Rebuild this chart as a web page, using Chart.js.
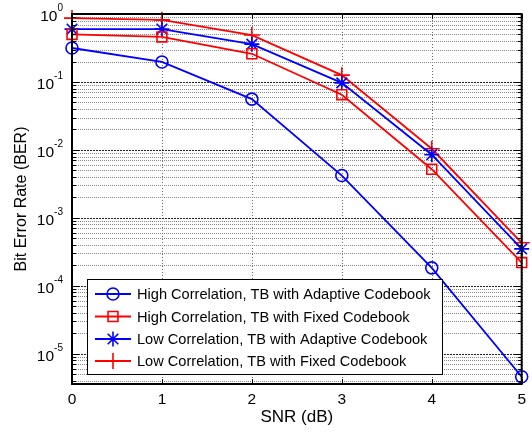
<!DOCTYPE html>
<html>
<head>
<meta charset="utf-8">
<script src="https://cdn.jsdelivr.net/npm/chart.js@4.4.1/dist/chart.umd.min.js"></script>
<style>
  html, body { margin: 0; padding: 0; background: #fff; }
  #wrap { width: 532px; height: 434px; }
</style>
</head>
<body>
<div id="wrap"><canvas id="ber-chart" width="532" height="434"></canvas></div>
<script>
// SNR points (dB)
const snr = [0, 1, 2, 3, 4, 5];

// BER
const highAdaptive = [0.316, 0.197, 0.056, 0.0042, 1.84e-4, 4.6e-6];
const highFixed    = [0.50, 0.46, 0.26, 0.065, 0.0052, 2.2e-4];
const lowAdaptive  = [0.60, 0.60, 0.36, 0.097, 0.0085, 3.5e-4];
const lowFixed     = [0.87, 0.82, 0.49, 0.126, 0.0104, 4.3e-4];

const seriesNames = [
  'High Correlation, TB with Adaptive Codebook',
  'High Correlation, TB with Fixed Codebook',
  'Low Correlation, TB with Adaptive Codebook',
  'Low Correlation, TB with Fixed Codebook'
];

// y tick decades (exponents of 10)
const yExponents = [0, -1, -2, -3, -4, -5];

const FONT = 'Arial, "Liberation Sans", sans-serif';
const BLUE = '#0000ff';
const RED = '#ff0000';

function makeSeries(label, values, color, style, radius) {
  return {
    label: label,
    data: snr.map((x, i) => ({ x: x, y: values[i] })),
    borderColor: color,
    backgroundColor: 'rgba(0,0,0,0)',
    borderWidth: 1.8,
    pointStyle: style,
    pointRadius: radius,
    pointBorderColor: color,
    pointBackgroundColor: 'rgba(0,0,0,0)',
    pointBorderWidth: 1.6,
    tension: 0,
    clip: false
  };
}

const datasets = [
  makeSeries(seriesNames[0], highAdaptive, BLUE, 'circle', 6),
  makeSeries(seriesNames[1], highFixed, RED, 'rect', 7),
  makeSeries(seriesNames[2], lowAdaptive, BLUE, 'star', 7.5),
  makeSeries(seriesNames[3], lowFixed, RED, 'cross', 8)
];

// all log ticks: 1..9 x 10^e
function logTickValues(min, max) {
  const out = [];
  for (let e = -6; e <= 0; e++) {
    for (let m = 1; m <= 9; m++) {
      const v = m * Math.pow(10, e);
      if (v >= min * 0.999 && v <= max * 1.001) out.push(v);
    }
  }
  return out;
}

function isDecade(v) {
  return Math.abs(Math.log10(v) - Math.round(Math.log10(v))) < 1e-9;
}

// grid lines, drawn under the data
const matlabGrid = {
  id: 'matlabGrid',
  beforeDatasetsDraw(chart) {
    const { ctx, chartArea: a, scales: { x, y } } = chart;
    ctx.save();
    ctx.lineWidth = 1;
    // vertical grid
    ctx.strokeStyle = '#666';
    ctx.setLineDash([1, 2]);
    snr.forEach(v => {
      const px = Math.round(x.getPixelForValue(v)) + 0.5;
      ctx.beginPath();
      ctx.moveTo(px, a.top);
      ctx.lineTo(px, a.bottom);
      ctx.stroke();
    });
    // horizontal grid
    logTickValues(y.min, y.max).forEach(v => {
      const major = isDecade(v);
      const py = Math.round(y.getPixelForValue(v)) + 0.5;
      ctx.strokeStyle = major ? '#222' : '#888';
      ctx.setLineDash(major ? [2, 1] : [1, 1]);
      ctx.beginPath();
      ctx.moveTo(a.left, py);
      ctx.lineTo(a.right, py);
      ctx.stroke();
    });
    ctx.restore();
  }
};

// frame, inward ticks, superscript labels and legend box
const matlabFrame = {
  id: 'matlabFrame',
  afterDraw(chart) {
    const { ctx, chartArea: a, scales: { x, y } } = chart;
    ctx.save();
    ctx.setLineDash([]);
    ctx.strokeStyle = '#000';

    // inward tick marks
    ctx.lineWidth = 1;
    logTickValues(y.min, y.max).forEach(v => {
      const len = isDecade(v) ? 7 : 4;
      const py = Math.round(y.getPixelForValue(v)) + 0.5;
      ctx.beginPath();
      ctx.moveTo(a.left, py); ctx.lineTo(a.left + len, py);
      ctx.moveTo(a.right, py); ctx.lineTo(a.right - len, py);
      ctx.stroke();
    });
    snr.forEach(v => {
      const px = Math.round(x.getPixelForValue(v)) + 0.5;
      ctx.beginPath();
      ctx.moveTo(px, a.bottom); ctx.lineTo(px, a.bottom - 5);
      ctx.moveTo(px, a.top); ctx.lineTo(px, a.top + 5);
      ctx.stroke();
    });

    // box
    ctx.lineWidth = 2;
    ctx.strokeRect(a.left, a.top, a.right - a.left, a.bottom - a.top);

    // y labels 10^e
    ctx.fillStyle = '#000';
    ctx.textBaseline = 'middle';
    yExponents.forEach(e => {
      const py = y.getPixelForValue(Math.pow(10, e));
      const sup = String(e);
      ctx.font = '10px ' + FONT;
      const supW = ctx.measureText(sup).width;
      const right = a.left - 9;
      ctx.textAlign = 'right';
      ctx.fillText(sup, right, py - 6);
      ctx.font = '15.5px ' + FONT;
      ctx.fillText('10', right - supW, py + 3);
    });

    // legend
    const lx = 87, ly = 279, lw = 355, lh = 95;
    ctx.fillStyle = '#fff';
    ctx.fillRect(lx, ly, lw, lh);
    ctx.lineWidth = 1;
    ctx.strokeStyle = '#000';
    ctx.strokeRect(lx + 0.5, ly + 0.5, lw, lh);
    const rowY = [294, 316.5, 339, 361];
    chart.data.datasets.forEach((ds, i) => {
      const cy = rowY[i];
      ctx.strokeStyle = ds.borderColor;
      ctx.fillStyle = 'rgba(0,0,0,0)';
      ctx.lineWidth = 1.8;
      ctx.beginPath();
      ctx.moveTo(95, cy); ctx.lineTo(131, cy);
      ctx.stroke();
      ctx.lineWidth = 1.6;
      Chart.helpers.drawPoint(ctx, {
        pointStyle: ds.pointStyle,
        radius: ds.pointRadius,
        borderWidth: 1.6
      }, 113, cy);
      ctx.fillStyle = '#000';
      ctx.font = '14.6px ' + FONT;
      ctx.textAlign = 'left';
      ctx.textBaseline = 'middle';
      ctx.fillText(ds.label, 137, cy + 1);
    });
    ctx.restore();
  }
};

const ctx = document.getElementById('ber-chart').getContext('2d');
new Chart(ctx, {
  type: 'line',
  data: { datasets: datasets },
  options: {
    responsive: false,
    animation: false,
    layout: { padding: { top: 14, right: 6, left: 0, bottom: 0 } },
    plugins: {
      legend: { display: false },
      tooltip: { enabled: false }
    },
    scales: {
      x: {
        type: 'linear',
        min: 0,
        max: 5,
        grid: { display: false, drawTicks: false },
        border: { display: false },
        ticks: {
          stepSize: 1,
          padding: 6,
          color: '#000',
          font: { family: FONT, size: 15.5 }
        },
        title: {
          display: true,
          text: 'SNR (dB)',
          color: '#000',
          font: { family: FONT, size: 17 },
          padding: { top: 0, bottom: 6 }
        },
        afterFit(scale) { scale.height = 50; }
      },
      y: {
        type: 'logarithmic',
        min: 3.6e-6,
        max: 1,
        grid: { display: false, drawTicks: false },
        border: { display: false },
        ticks: { display: false },
        title: {
          display: true,
          text: 'Bit Error Rate (BER)',
          color: '#000',
          font: { family: FONT, size: 16 },
          padding: { top: 12, bottom: 0 }
        },
        afterFit(scale) { scale.width = 72; }
      }
    }
  },
  plugins: [matlabGrid, matlabFrame]
});
</script>
</body>
</html>
